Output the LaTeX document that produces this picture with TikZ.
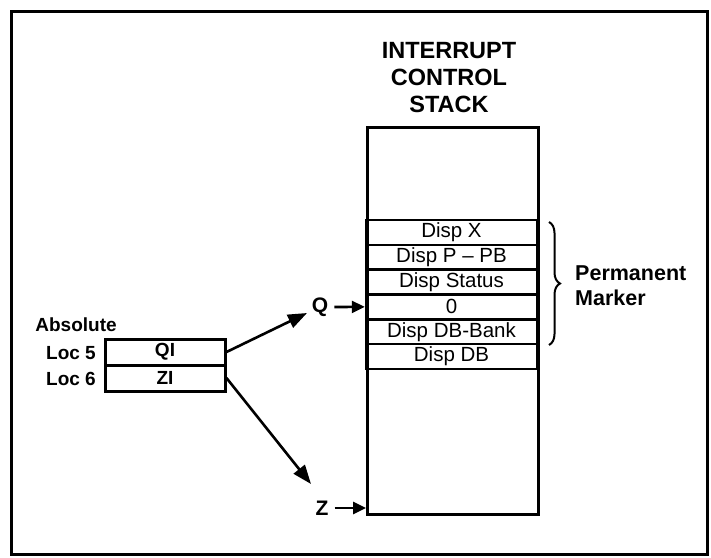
\documentclass[tikz,border=0pt]{standalone}
\usepackage{fontspec}
\setmainfont{Liberation Sans}
\usetikzlibrary{arrows.meta,positioning,calc,decorations.pathreplacing}

\begin{document}
\begin{tikzpicture}[x=1pt,y=-1pt,
    cell/.style={draw,line width=2.4pt,minimum width=171pt,minimum height=24.8pt,inner sep=0pt,font=\fontsize{20.5}{22}\selectfont},
    loc/.style={draw,line width=3pt,minimum width=120pt,minimum height=26pt,inner sep=0pt,font=\fontsize{19}{20}\selectfont\bfseries},
    lbl/.style={font=\fontsize{19}{20}\selectfont\bfseries,inner sep=1pt},
    ptr/.style={-{Triangle[length=19pt,width=14pt]},line width=2.6pt},
    hit/.style={-{Triangle[length=13pt,width=12pt]},line width=2.6pt,shorten <=5pt}]
  \useasboundingbox (0,0) rectangle (711,557);
  % outer frame
  \draw[line width=3pt] (11,11) rectangle (707,554);
  % the stack
  \node[lbl,align=center,font=\fontsize{23.5}{27}\selectfont\bfseries] (title) at (449,78)
    {INTERRUPT\\CONTROL\\STACK};
  \node[draw,line width=3.2pt,minimum width=171pt,minimum height=387pt,anchor=north west] (stack) at (366,126) {};
  \foreach \i/\t in {0/Disp X,1/Disp P -- PB,2/Disp Status,3/0,4/Disp DB-Bank,5/Disp DB} {
    \node[cell] (r\i) at (451.5,232.4+24.83*\i) {\t};
  }
  % permanent marker
  \coordinate (btop) at (549,222);
  \coordinate (bbot) at (549,345);
  \draw[line width=2pt,decorate,decoration={brace,amplitude=11pt}] (btop) -- (bbot);
  \node[lbl,align=left,anchor=west,font=\fontsize{21.5}{25}\selectfont\bfseries] (perm) at (574,286) {Permanent\\Marker};
  % absolute locations
  \node[loc] (qi) at (165,352) {QI};
  \node[loc] (zi) at (165,378) {ZI};
  \node[lbl,anchor=east] (loc5) at (97,353) {Loc 5};
  \node[lbl,anchor=east] (loc6) at (97,379) {Loc 6};
  \node[lbl] (abs) at (76,325) {Absolute};
  % pointers
  \node[lbl,font=\fontsize{21}{22}\selectfont\bfseries] (q) at (320,307) {Q};
  \node[lbl,font=\fontsize{21}{22}\selectfont\bfseries] (z) at (322,508) {Z};
  \coordinate (qtip) at (307,313);
  \coordinate (ztip) at (311,484);
  \draw[ptr] (qi.east) -- (qtip);
  \draw[ptr] (zi.east) -- (ztip);
  \draw[hit] (q.east) -- (r3.west);
  \draw[hit] (z.east) -- (z -| stack.west);
\end{tikzpicture}
\end{document}
